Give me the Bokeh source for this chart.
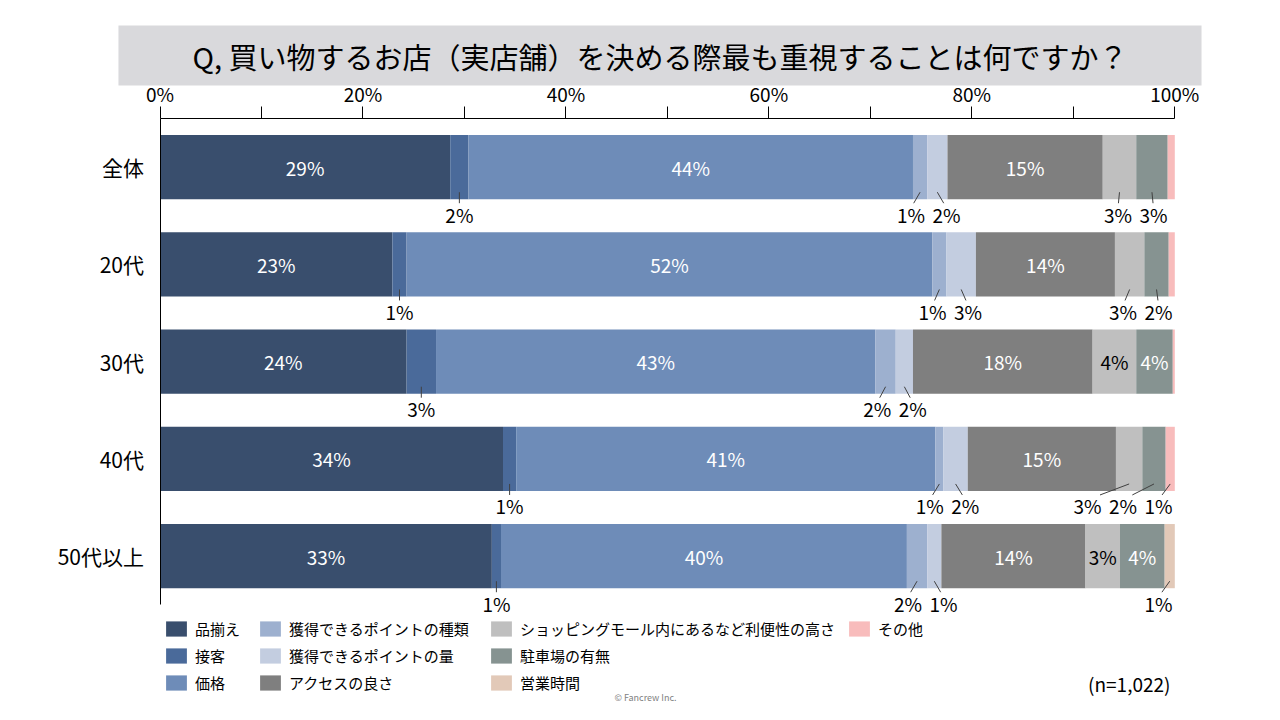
from bokeh.plotting import figure
from bokeh.models import ColumnDataSource, FixedTicker, Legend, LegendItem, Range1d, Label
from bokeh.embed import file_html
from bokeh.resources import INLINE
from bokeh.core.properties import value

FONT = "Noto Sans CJK JP"

# ---------------- data ----------------
title_text = "Q, 買い物するお店（実店舗）を決める際最も重視することは何ですか？"
categories = ["全体", "20代", "30代", "40代", "50代以上"]
series_names = ["品揃え", "接客", "価格", "獲得できるポイントの種類", "獲得できるポイントの量",
                "アクセスの良さ", "ショッピングモール内にあるなど利便性の高さ", "駐車場の有無",
                "営業時間", "その他"]
assortment   = [28.6, 22.9, 24.3, 33.8, 32.7]
service      = [1.8, 1.4, 2.9, 1.3, 0.9]
price        = [43.8, 51.8, 43.3, 41.3, 40.0]
point_kind   = [1.4, 1.4, 2.0, 0.8, 2.0]
point_amount = [2.0, 2.9, 1.7, 2.4, 1.4]
access       = [15.3, 13.7, 17.7, 14.6, 14.2]
convenience  = [3.3, 2.9, 4.3, 2.6, 3.4]
parking      = [3.1, 2.4, 3.6, 2.3, 4.4]
hours        = [0.0, 0.0, 0.0, 0.0, 1.0]
other        = [0.7, 0.6, 0.2, 0.9, 0.0]
tick_values = [0, 20, 40, 60, 80, 100]
tick_labels = ["0%", "20%", "40%", "60%", "80%", "100%"]
minor_ticks = [10, 30, 50, 70, 90]
sample_note = "(n=1,022)"
copyright_note = "© Fancrew Inc."

values = [assortment, service, price, point_kind, point_amount, access,
          convenience, parking, hours, other]
colors = ["#394e6d", "#4a6a9a", "#6e8cb8", "#9db0cf", "#c3cde0",
          "#7f7f7f", "#bfbfbf", "#869391", "#e2c9b8", "#f8bcbc"]

# ---------------- geometry helpers (picture pixels -> data) ----------------
PX_PER_X = 10.148           # pixels per percent
PX_PER_Y = 97.25            # pixels per row
X0_PAGE = 159.5             # picture x of 0%
Y_TOP_PAGE = 118.0          # picture y of top of first row band
ORIGIN = 0                  # picture offset of the canvas
W, H = 1264, 704


def px_x(page_x):
    return (page_x - X0_PAGE) / PX_PER_X


def px_y(page_y):
    return 4.5 - (page_y - Y_TOP_PAGE) / PX_PER_Y


BAR_H = 0.66
SHOW_MIN = 0.75
INSIDE_MIN = 3.4
GAP = 3.5
XMAX = 98.4

n_rows = len(categories)
row_y = [n_rows - 1 - i for i in range(n_rows)]
keys = [f"s{k}" for k in range(len(series_names))]
src = ColumnDataSource(dict(y=row_y, **{keys[k]: values[k] for k in range(len(keys))}))


def spread(centers):
    groups = [[c] for c in centers]

    def pos(g):
        m = sum(g) / len(g)
        s = m - GAP * (len(g) - 1) / 2
        return [s + GAP * j for j in range(len(g))]

    merged = True
    while merged:
        merged = False
        for i in range(len(groups) - 1):
            if pos(groups[i])[-1] + GAP > pos(groups[i + 1])[0]:
                groups[i] = groups[i] + groups[i + 1]
                del groups[i + 1]
                merged = True
                break
    out = []
    for g in groups:
        out += pos(g)
    if out:
        out[-1] = min(out[-1], XMAX)
        for j in range(len(out) - 2, -1, -1):
            out[j] = min(out[j], out[j + 1] - GAP)
    return out


def is_light(hexcol):
    r, g, b = int(hexcol[1:3], 16), int(hexcol[3:5], 16), int(hexcol[5:7], 16)
    return 0.299 * r + 0.587 * g + 0.114 * b > 170


in_x, in_y, in_t, in_c = [], [], [], []
out_x, out_y, out_t = [], [], []
sx0, sy0, sx1, sy1 = [], [], [], []
for r in range(n_rows):
    left = 0.0
    outside = []
    for k in range(len(series_names)):
        v = values[k][r]
        c = left + v / 2
        if v >= SHOW_MIN:
            txt = f"{int(v + 0.5)}%"
            if v >= INSIDE_MIN:
                in_x.append(c)
                in_y.append(row_y[r])
                in_t.append(txt)
                in_c.append("#000000" if is_light(colors[k]) else "#ffffff")
            else:
                outside.append((c, txt))
        left += v
    xs = spread([o[0] for o in outside])
    bottom = row_y[r] - BAR_H / 2
    for (c, txt), lx in zip(outside, xs):
        out_x.append(lx)
        out_y.append(bottom - 15 / PX_PER_Y)
        out_t.append(txt)
        sx0.append(c)
        sy0.append(bottom + 7 / PX_PER_Y)
        sx1.append(lx + 0.3 * (c - lx))
        sy1.append(bottom - 4 / PX_PER_Y)

# ---------------- figure (frame = whole canvas) ----------------
p = figure(width=W, height=H, x_axis_location="above", output_backend="svg", toolbar_location=None,
           min_border=0)
p.x_range = Range1d(px_x(ORIGIN), px_x(ORIGIN + W))
p.y_range = Range1d(px_y(ORIGIN + H), px_y(ORIGIN))
p.outline_line_color = None
p.xgrid.visible = False
p.ygrid.visible = False

# top axis, pinned at the top of the first row band
xa = p.xaxis[0]
xa.fixed_location = 4.5
xa.ticker = FixedTicker(ticks=tick_values, minor_ticks=minor_ticks)
xa.major_label_overrides = {t: l for t, l in zip(tick_values, tick_labels)}
xa.bounds = (0, 100)
xa.axis_line_color = "#000000"
xa.major_tick_line_color = "#000000"
xa.minor_tick_line_color = "#000000"
xa.major_tick_out = 12
xa.major_tick_in = 0
xa.minor_tick_out = 12
xa.minor_tick_in = 0
xa.major_label_standoff = 0
xa.major_label_text_font = FONT
xa.major_label_text_font_size = "19px"
xa.major_label_text_color = "#000000"

# left axis (categories) pinned at 0%
ya = p.yaxis[0]
ya.fixed_location = 0
ya.ticker = FixedTicker(ticks=row_y, minor_ticks=[])
ya.major_label_overrides = {y: c for y, c in zip(row_y, categories)}
ya.bounds = (-0.5, 4.5)
ya.axis_line_color = "#000000"
ya.major_tick_line_color = None
ya.minor_tick_line_color = None
ya.major_label_standoff = 10
ya.major_label_text_font = FONT
ya.major_label_text_font_size = "21px"
ya.major_label_text_color = "#000000"

# title box
p.add_layout(Label(x=px_x(659.5), y=px_y(55), text=title_text, text_align="center",
                   text_baseline="middle", text_font=FONT, text_font_size="29px",
                   text_color="#000000", background_fill_color="#d9d9dc",
                   padding=dict(left=74, right=74, top=9, bottom=9)))

# bars
renderers = p.hbar_stack(keys, y="y", height=BAR_H, fill_color=colors, line_color=None, source=src)

# labels
p.text(x=in_x, y=in_y, text=in_t, text_color=in_c, text_align="center", text_baseline="middle",
       text_font=value(FONT), text_font_size="19px")
p.segment(x0=sx0, y0=sy0, x1=sx1, y1=sy1, line_color="#404040", line_width=1)
p.text(x=out_x, y=out_y, text=out_t, text_color="#000000", text_align="center", text_baseline="middle",
       text_font=value(FONT), text_font_size="19px")

# legends (column-wise)
cols = [[0, 1, 2], [3, 4, 5], [6, 7, 8], [9]]
col_page_x = [167, 261, 492, 850]
ITEM_H, SPACING = 21, 6
legend_top_page = 617.5
for idxs, cx in zip(cols, col_page_x):
    n = len(idxs)
    h = n * ITEM_H + (n - 1) * SPACING
    bottom_from_frame = (ORIGIN + H) - (legend_top_page + h)
    leg = Legend(items=[LegendItem(label=series_names[k], renderers=[renderers[k]]) for k in idxs],
                 location=(cx - ORIGIN - 4, bottom_from_frame), orientation="vertical",
                 padding=0, margin=0, spacing=SPACING, glyph_width=26, glyph_height=19,
                 label_height=19, label_standoff=6, border_line_color=None,
                 background_fill_alpha=0, label_text_font=FONT, label_text_font_size="15px",
                 label_text_color="#000000")
    p.add_layout(leg)

p.add_layout(Label(x=px_x(1170), y=px_y(683), text=sample_note, text_align="right",
                   text_baseline="middle", text_font=FONT, text_font_size="19px", text_color="#000000"))
p.add_layout(Label(x=px_x(645), y=px_y(697), text=copyright_note, text_align="center",
                   text_baseline="middle", text_font=FONT, text_font_size="9px", text_color="#7f7f7f"))

with open("out.html", "w", encoding="utf-8") as f:
    f.write(file_html(p, INLINE))
